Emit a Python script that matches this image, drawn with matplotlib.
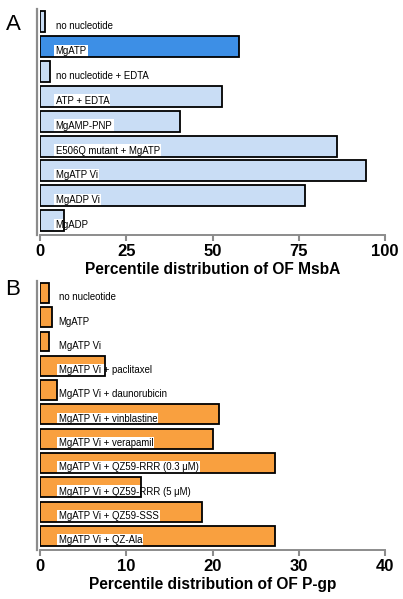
import matplotlib
matplotlib.use("Agg")
import matplotlib.pyplot as plt

plt.rcParams["font.family"] = ["Liberation Sans", "DejaVu Sans"]

msba_labels = [
    "no nucleotide",
    "MgATP",
    "no nucleotide + EDTA",
    "ATP + EDTA",
    "MgAMP-PNP",
    "E506Q mutant + MgATP",
    "MgATP Vi",
    "MgADP Vi",
    "MgADP",
]
msba_values = [1.5, 57.6, 3.0, 52.7, 40.7, 86.1, 94.4, 76.7, 7.0]
msba_ticks = [0, 25, 50, 75, 100]

pgp_labels = [
    "no nucleotide",
    "MgATP",
    "MgATP Vi",
    "MgATP Vi + paclitaxel",
    "MgATP Vi + daunorubicin",
    "MgATP Vi + vinblastine",
    "MgATP Vi + verapamil",
    "MgATP Vi + QZ59-RRR (0.3 \u03bcM)",
    "MgATP Vi + QZ59-RRR (5 \u03bcM)",
    "MgATP Vi + QZ59-SSS",
    "MgATP Vi + QZ-Ala",
]
pgp_values = [1.0, 1.4, 1.0, 7.5, 2.0, 20.8, 20.1, 27.3, 11.7, 18.8, 27.2]
pgp_ticks = [0, 10, 20, 30, 40]

W, H = 403, 599
fig = plt.figure(figsize=(W / 100, H / 100), dpi=100)


def panel(rect, labels, values, colors, ticks, xlabel, bar_h, ylim, text_x, letter, letter_y):
    ax = fig.add_axes(rect)
    pos = list(range(len(values)))
    # fill first, then label boxes, then the black outlines on top
    ax.barh(pos, values, height=bar_h, color=colors, edgecolor="none", zorder=1)
    ax.barh(pos, values, height=bar_h, facecolor="none", edgecolor="black",
            linewidth=1.3, zorder=3)
    for i, lab in enumerate(labels):
        ax.text(text_x, i + 0.18, lab, fontsize=6.9, va="center", ha="left", zorder=2,
                bbox=dict(facecolor="white", edgecolor="none", pad=0.9))
    ax.set_xlim(ticks[0], ticks[-1])
    ax.set_ylim(*ylim)
    ax.set_yticks([])
    ax.set_xticks(ticks)
    ax.set_xticklabels([str(t) for t in ticks], fontsize=12, fontweight="bold")
    ax.tick_params(axis="x", length=4, width=1.5, color="#8c8c8c", pad=2.5)
    ax.set_xlabel(xlabel, fontsize=11.2, fontweight="bold", labelpad=2)
    for s in ("top", "right"):
        ax.spines[s].set_visible(False)
    ax.spines["left"].set_position(("outward", 2.2))
    ax.spines["left"].set_color("#8c8c8c")
    ax.spines["left"].set_linewidth(1.6)
    ax.spines["bottom"].set_color("#8c8c8c")
    ax.spines["bottom"].set_linewidth(1.4)
    fig.text(13 / W, 1 - letter_y / H, letter, fontsize=16, ha="center", va="center")
    return ax


msba_colors = ["#c9ddf5"] * len(msba_values)
msba_colors[1] = "#3d8fe6"
panel([40 / W, 1 - 235 / H, 345 / W, 226 / H], msba_labels, msba_values, msba_colors,
      msba_ticks, "Percentile distribution of OF MsbA", 0.84, (8.57, -0.5), 4.5, "A", 24)

pgp_colors = ["#f9a03f"] * len(pgp_values)
panel([40 / W, 1 - 550 / H, 345 / W, 269 / H], pgp_labels, pgp_values, pgp_colors,
      pgp_ticks, "Percentile distribution of OF P-gp", 0.82, (10.58, -0.49), 2.15, "B", 289)

fig.savefig("out.png", dpi=100)
